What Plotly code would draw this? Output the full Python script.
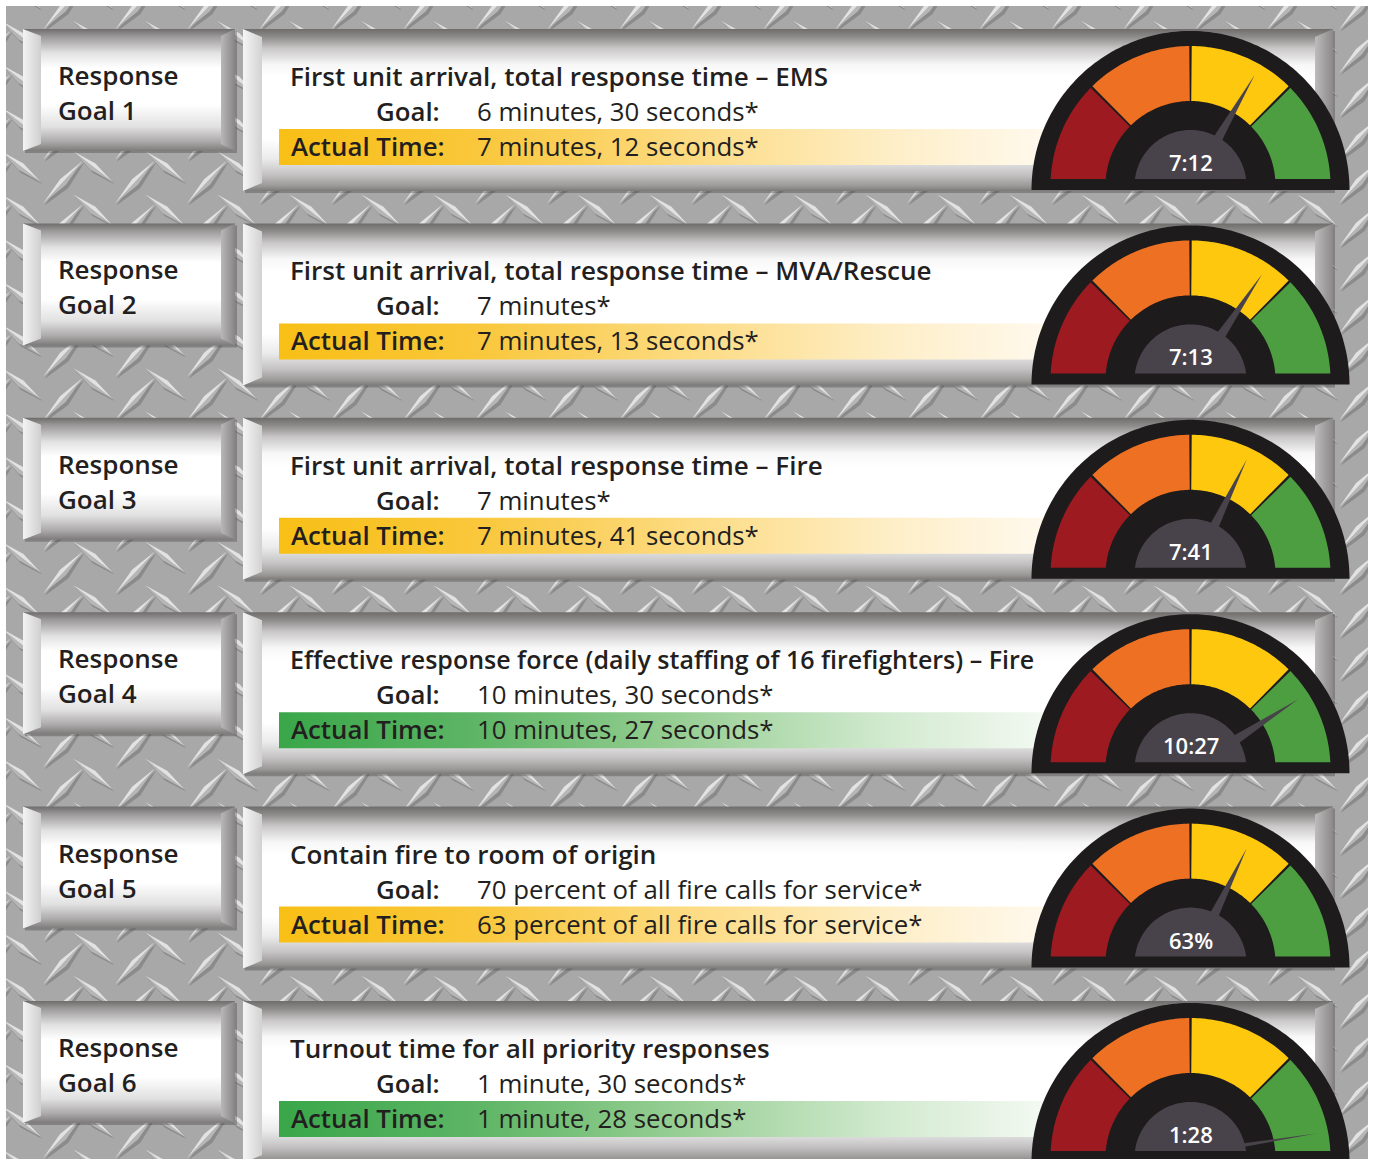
import numpy as np
import plotly.graph_objects as go

W, H = 1373, 1159

# ---- content -------------------------------------------------------------
goal_ids = [1, 2, 3, 4, 5, 6]
titles = [
    "First unit arrival, total response time – EMS",
    "First unit arrival, total response time – MVA/Rescue",
    "First unit arrival, total response time – Fire",
    "Effective response force (daily staffing of 16 firefighters) – Fire",
    "Contain fire to room of origin",
    "Turnout time for all priority responses",
]
goal_values = [
    "6 minutes, 30 seconds*",
    "7 minutes*",
    "7 minutes*",
    "10 minutes, 30 seconds*",
    "70 percent of all fire calls for service*",
    "1 minute, 30 seconds*",
]
actual_values = [
    "7 minutes, 12 seconds*",
    "7 minutes, 13 seconds*",
    "7 minutes, 41 seconds*",
    "10 minutes, 27 seconds*",
    "63 percent of all fire calls for service*",
    "1 minute, 28 seconds*",
]
gauge_readouts = ["7:12", "7:13", "7:41", "10:27", "63%", "1:28"]
goal_met = [False, False, False, True, False, True]
# needle position on the dial, degrees (180 = far left / red, 0 = far right / green)
needle_angle_deg = [60, 56, 64, 33, 64, 11]

# ---- styling --------------------------------------------------------------
ROW_STEP = 194.4
INK = "#231f20"
FONT = "Open Sans"
TITLE_SIZE = [26, 26, 26, 25, 26, 26]
LINE_SIZE = 25.8
DIAL = ["#9c1a20", "#ee7123", "#fdc80e", "#4d9e40"]
BLACK = "#1d1b1c"
HUB = "#48434a"

fig = go.Figure()


def poly(xs, ys, color=None, grad=None):
    xs = list(xs)
    ys = list(ys)
    kw = dict(x=xs + [xs[0]], y=ys + [ys[0]], mode="none", fill="toself",
              hoverinfo="skip", showlegend=False)
    if grad is not None:
        kw["fillgradient"] = grad
        kw["fillcolor"] = color or "white"
    else:
        kw["fillcolor"] = color
    fig.add_trace(go.Scatter(**kw))


def rect(x0, y0, x1, y1, color=None, grad=None):
    poly([x0, x1, x1, x0], [y0, y0, y1, y1], color, grad)


def vgrad(y0, y1, stops):
    return dict(type="vertical", start=y0, stop=y1, colorscale=stops)


def hgrad(x0, x1, stops):
    return dict(type="horizontal", start=x0, stop=x1, colorscale=stops)


# ---- diamond plate background --------------------------------------------
rect(0, 0, W, H, "#ffffff")
rect(6, 6, 1368, H, "#a8a8a8")


def lozenges(centers, ang, half_len, half_w):
    a = np.radians(ang)
    u = np.array([np.cos(a), -np.sin(a)])
    n = np.array([np.sin(a), np.cos(a)])
    sx, sy, lx, ly, dx, dy = [], [], [], [], [], []
    off = np.array([1.5, 2.0])
    for cx, cy in centers:
        c = np.array([cx, cy])
        p1, p2 = c + half_len * u, c - half_len * u
        q1, q2 = c - half_w * n, c + half_w * n
        for P, X, Y in (((p1 + off, q1 + off, p2 + off, q2 + 1.6 * off), sx, sy),
                        ((p1, q1, p2), lx, ly),
                        ((p1, q2, p2), dx, dy)):
            for pt in P:
                X.append(pt[0]); Y.append(pt[1])
            X.append(P[0][0]); Y.append(P[0][1])
            X.append(None); Y.append(None)
    return (sx, sy), (lx, ly), (dx, dy)


fwd, back = [], []
for j in range(-1, 29):
    for i in range(-1, 21):
        fwd.append((63 + 72 * i, 182 + 43.4 * (j - 4)))
        back.append((21 + 72 * i, 210 + 43.4 * (j - 5)))

for centers, ang, hl in ((back, -38, 25), (fwd, 47, 29)):
    shadow, light, dark = lozenges(centers, ang, hl, 4)
    for (X, Y), col in ((shadow, "#8b8b8b"), (dark, "#b6b6b6"), (light, "#e2e2e2")):
        fig.add_trace(go.Scatter(x=X, y=Y, mode="none", fill="toself", fillcolor=col,
                                 hoverinfo="skip", showlegend=False))

# keep the plate edges crisp
rect(0, 0, 6, H, "#ffffff")
rect(0, 0, W, 6, "#ffffff")
rect(1368, 0, W, H, "#ffffff")

# ---- rows ----------------------------------------------------------------
BOX_FACE = [[0, "#6f6c6c"], [0.06, "#9a9898"], [0.2, "#e4e3e3"], [0.32, "#ffffff"],
            [0.62, "#ffffff"], [0.8, "#e2e1e1"], [0.92, "#adabab"], [1, "#7d7a7a"]]
PANEL_FACE = [[0, "#6f6c6c"], [0.05, "#8f8c8c"], [0.12, "#c9c7c7"], [0.22, "#f7f7f7"],
              [0.3, "#ffffff"], [0.68, "#ffffff"], [0.8, "#ecebeb"], [0.9, "#c4c2c2"],
              [0.97, "#9a9797"], [1, "#7c7979"]]
YELLOW_BAR = [[0, "#f8bf16"], [0.25, "#f9c73a"], [0.5, "#fcd97b"], [0.78, "#feeec7"],
              [1, "#fffaf0"]]
GREEN_BAR = [[0, "#39a649"], [0.25, "#5db565"], [0.5, "#94cd91"], [0.78, "#d2eacf"],
             [1, "#f6fbf5"]]


def arc(cx, cy, r, a0, a1, n=60):
    t = np.radians(np.linspace(a0, a1, n))
    return cx + r * np.cos(t), cy - r * np.sin(t)


annotations = []


def label(x, y, text, size, anchor="left", weight="normal", color=INK):
    annotations.append(dict(x=x, y=y, text=text, xref="x", yref="y", showarrow=False,
                            xanchor=anchor, yanchor="middle",
                            font=dict(family=FONT, size=size, color=color, weight=weight)))


for r, gid in enumerate(goal_ids):
    oy = ROW_STEP * r

    # left tag
    rect(25, 31 + oy, 237, 153 + oy, "rgba(60,60,60,0.35)")
    rect(23, 29 + oy, 235, 151 + oy, grad=vgrad(29 + oy, 151 + oy, BOX_FACE))
    poly([23, 41, 41, 23], [29 + oy, 36 + oy, 144 + oy, 151 + oy],
         grad=hgrad(23, 41, [[0, "#f3f3f3"], [1, "#cfcfcf"]]))
    poly([235, 221, 221, 235], [29 + oy, 36 + oy, 144 + oy, 151 + oy],
         grad=hgrad(221, 235, [[0, "#b9b7b7"], [1, "#878585"]]))

    # main panel
    rect(245, 31 + oy, 1335, 193 + oy, "rgba(60,60,60,0.35)")
    rect(243, 29 + oy, 1333, 191 + oy, grad=vgrad(29 + oy, 191 + oy, PANEL_FACE))
    poly([243, 262, 262, 243], [29 + oy, 37 + oy, 183 + oy, 191 + oy],
         grad=hgrad(243, 262, [[0, "#f5f5f5"], [1, "#d2d2d2"]]))
    poly([1333, 1315, 1315, 1333], [29 + oy, 37 + oy, 183 + oy, 191 + oy],
         grad=hgrad(1315, 1333, [[0, "#bdbbbb"], [1, "#8a8888"]]))

    # highlight strip behind the actual result
    rect(279, 129 + oy, 1060, 165 + oy,
         grad=hgrad(279, 1060, GREEN_BAR if goal_met[r] else YELLOW_BAR))

    # gauge
    cx, cy = 1190.5, 186 + oy
    floor = cy - 7
    bx, by = arc(cx, cy + 4, 159, 0, 180, 120)
    poly(bx, by, BLACK)
    bounds = [(135, 180), (90, 135), (45, 90), (0, 45)]
    for (a0, a1), col in zip(bounds, DIAL):
        g0 = a0 + (0.5 if a0 > 0 else 0)
        g1 = a1 - (0.5 if a1 < 180 else 0)
        ox, oyy = arc(cx, cy, 140, g0, g1, 40)
        ix, iy = arc(cx, cy, 85, g1, g0, 40)
        ys = np.minimum(np.concatenate([oyy, iy]), floor)
        poly(np.concatenate([ox, ix]), ys, col)

    t = np.radians(needle_angle_deg[r])
    u = np.array([np.cos(t), -np.sin(t)])
    n = np.array([np.sin(t), np.cos(t)])
    c = np.array([cx, cy])
    tip = c + 128 * u
    b1, b2 = c + 30 * u + 6 * n, c + 30 * u - 6 * n
    poly([tip[0], b1[0], b2[0]], np.minimum([tip[1], b1[1], b2[1]], floor), HUB)

    hx, hy = arc(cx, cy, 56, 0, 180, 80)
    poly(hx, np.minimum(hy, floor), HUB)

    # text
    label(56, 75 + oy, "Response", 26, weight=600)
    label(56, 110 + oy, f"Goal {gid}", 26, weight=600)
    label(288, 76 + oy, titles[r], TITLE_SIZE[r], weight=600)
    label(442, 111 + oy, "Goal:", LINE_SIZE, anchor="right", weight=600)
    label(475, 111 + oy, goal_values[r], LINE_SIZE)
    label(289, 146 + oy, "Actual Time:", LINE_SIZE, weight=600)
    label(475, 146 + oy, actual_values[r], LINE_SIZE)
    label(cx, 162 + oy, gauge_readouts[r], 22, anchor="center", weight=600, color="#ffffff")

fig.update_layout(
    width=W, height=H,
    margin=dict(l=0, r=0, t=0, b=0),
    paper_bgcolor="#ffffff", plot_bgcolor="#ffffff",
    xaxis=dict(range=[0, W], visible=False, fixedrange=True),
    yaxis=dict(range=[H, 0], visible=False, fixedrange=True),
    annotations=annotations,
    showlegend=False,
)

fig.write_html("out.html")
